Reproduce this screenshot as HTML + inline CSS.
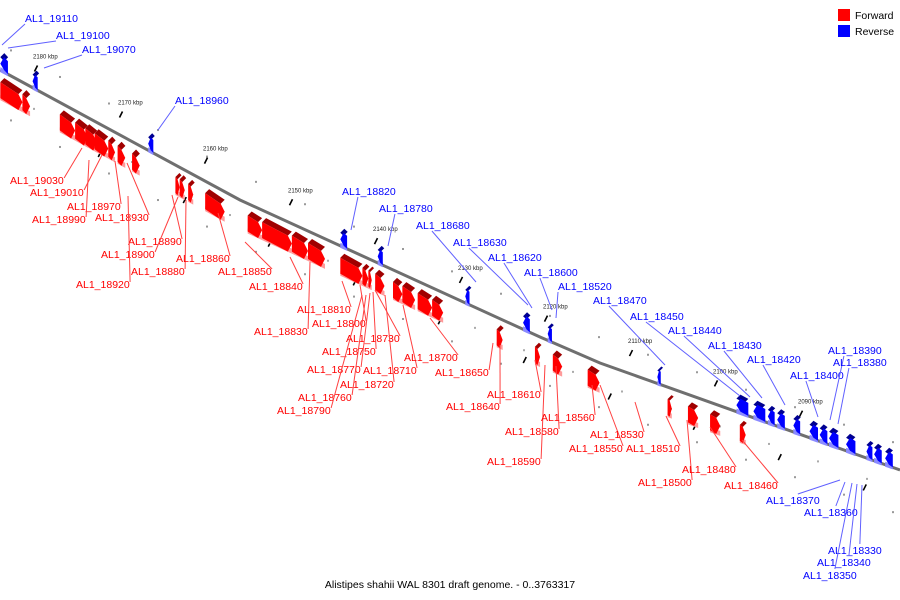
<!DOCTYPE html>
<html>
<head>
<meta charset="utf-8">
<style>
  html,body{margin:0;padding:0;background:#fff;}
  svg{display:block;}
  .lbl{font-family:"Liberation Sans","DejaVu Sans",sans-serif;font-size:10.5px;}
  .tk{font-family:"Liberation Sans",sans-serif;font-size:6px;fill:#222;}
</style>
</head>
<body>
<svg id="chart" width="900" height="600" viewBox="0 0 900 600">
  <g id="bg"></g>
  <polyline id="axis" fill="none" stroke="#6f6f6f" stroke-width="3"></polyline>
  <g id="ticks"></g>
  <g id="genes"></g>
  <g id="labels"></g>
  <g>
    <rect x="838" y="9" width="12" height="12" fill="#ff0000"/>
    <text x="855" y="19" class="lbl" font-size="9.5" fill="#000">Forward</text>
    <rect x="838" y="25" width="12" height="12" fill="#0000ff"/>
    <text x="855" y="35" class="lbl" font-size="9.5" fill="#000">Reverse</text>
  </g>
  <text x="450" y="588" text-anchor="middle" class="lbl" font-size="10" fill="#000">Alistipes shahii WAL 8301 draft genome. - 0..3763317</text>
</svg>
<script>
// ---- data (kbp) ----
const fwdStart = [2184.2,2181.6,2177.2,2175.4,2174.2,2173.1,2171.5,2170.4,2168.7,2163.6,2163.1,2162.1,2160.1,2155.1,2153.4,2149.9,2148.0,2144.2,2141.6,2140.9,2140.1,2138.0,2136.9,2135.1,2133.4,2125.8,2121.3,2119.2,2115.1,2105.7,2103.3,2100.7,2097.2];
const fwdEnd   = [2181.6,2180.7,2175.4,2173.9,2172.8,2171.5,2170.7,2169.5,2167.8,2163.1,2162.5,2161.5,2157.8,2153.4,2149.9,2148.0,2146.0,2141.6,2140.9,2140.5,2139.0,2136.9,2135.4,2133.4,2132.1,2125.1,2120.7,2118.1,2113.7,2105.2,2102.1,2099.5,2096.5];
const revStart = [2184.2,2180.4,2166.8,2144.2,2139.8,2129.5,2122.7,2119.8,2106.9,2097.6,2095.6,2093.9,2092.8,2090.9,2089.0,2087.8,2086.7,2084.7,2082.3,2081.4,2080.1];
const revEnd   = [2183.3,2179.8,2166.2,2143.4,2139.2,2129.0,2121.9,2119.3,2106.5,2096.2,2094.2,2093.1,2091.9,2090.1,2088.0,2086.9,2085.6,2083.6,2081.6,2080.5,2079.2];
const tickKbp  = [2180,2170,2160,2150,2140,2130,2120,2110,2100,2090];
const tickLabels = ["2180 kbp","2170 kbp","2160 kbp","2150 kbp","2140 kbp","2130 kbp","2120 kbp","2110 kbp","2100 kbp","2090 kbp"];
// labels: text, text x, baseline y, leader end x, leader end y, strand
const labelNames = ["AL1_19110","AL1_19100","AL1_19070","AL1_18960","AL1_18820","AL1_18780","AL1_18680","AL1_18630","AL1_18620","AL1_18600","AL1_18520","AL1_18470","AL1_18450","AL1_18440","AL1_18430","AL1_18420","AL1_18400","AL1_18390","AL1_18380","AL1_18370","AL1_18360","AL1_18330","AL1_18340","AL1_18350",
 "AL1_19030","AL1_19010","AL1_18970","AL1_18990","AL1_18930","AL1_18890","AL1_18900","AL1_18880","AL1_18920","AL1_18860","AL1_18850","AL1_18840","AL1_18830","AL1_18810","AL1_18800","AL1_18730","AL1_18750","AL1_18770","AL1_18710","AL1_18720","AL1_18760","AL1_18790","AL1_18700","AL1_18650","AL1_18640","AL1_18610","AL1_18580","AL1_18590","AL1_18560","AL1_18550","AL1_18530","AL1_18510","AL1_18500","AL1_18480","AL1_18460"];
const labelStrand = "bbbbbbbbbbbbbbbbbbbbbbbbrrrrrrrrrrrrrrrrrrrrrrrrrrrrrrrrrrr";
const labelPos = [[25,22,2,45],[56,39,8,48],[82,53,44,68],[175,104,158,130],[342,195,351,230],[379,212,388,246],[416,229,476,282],[453,246,528,305],[488,261,532,308],[524,276,552,310],[558,290,556,318],[593,304,665,365],[630,320,740,396],[668,334,750,397],[708,349,762,398],[747,363,785,405],[790,379,818,417],[828,354,830,420],[833,366,838,424],[766,504,840,480],[804,516,845,482],[828,554,862,485],[817,566,857,484],[803,579,852,483],
 [10,184,82,148],[30,196,102,155],[67,210,115,161],[32,223,89,160],[95,221,127,163],[128,245,172,195],[101,258,178,197],[131,275,186,200],[76,288,128,196],[176,262,218,213],[218,275,245,242],[249,290,290,257],[254,335,310,262],[297,313,342,281],[312,327,360,285],[346,342,375,290],[322,355,373,292],[307,373,370,293],[363,374,403,305],[340,388,385,295],[298,401,366,295],[277,414,362,295],[404,361,430,318],[435,376,493,343],[446,410,500,345],[487,398,535,360],[505,435,556,366],[487,465,545,365],[541,421,592,385],[569,452,600,385],[590,438,635,402],[626,452,666,416],[638,486,687,420],[682,473,710,427],[724,489,742,440]];

// ---- axis functions ----
const axPts=[[0,70],[240,200],[540,337],[600,363],[900,470]];
function axisY(x){
  for(let i=0;i<axPts.length-1;i++){
    const a=axPts[i],b=axPts[i+1];
    if(x<=b[0]||i===axPts.length-2){return a[1]+(b[1]-a[1])*(x-a[0])/(b[0]-a[0]);}
  }
}
function xOf(kbp){return 36+(2180-kbp)*8.5;}
const NS="http://www.w3.org/2000/svg";
function mk(tag,attrs,parent){const e=document.createElementNS(NS,tag);for(const k in attrs)e.setAttribute(k,attrs[k]);parent.appendChild(e);return e;}

document.getElementById('axis').setAttribute('points',axPts.map(p=>p.join(',')).join(' '));

// background dots
const bg=document.getElementById('bg');
for(let x=10;x<900;x+=49){
  [-26,44].forEach(o=>{
    const d=mk('rect',{x:x,y:axisY(x)+o,width:2,height:2,fill:'#999'},bg);
    
    
  });
}
for(let x=33;x<900;x+=49){
  const d=mk('rect',{x:x,y:axisY(x)+20,width:2,height:2,fill:'#aaa'},bg);
  
  
}

// ticks
const tg=document.getElementById('ticks');
tickKbp.forEach((k,i)=>{
  const x=xOf(k),y=axisY(x)-21;
  const t=mk('line',{x1:x-1.5,y1:y+3,x2:x+1.5,y2:y-3,stroke:'#000','stroke-width':1.6},tg);
  
  
  const tx=mk('text',{x:x-3,y:y-10,class:'tk'},tg);
  tx.textContent=tickLabels[i];
  
  
  const x2=xOf(k-7.5),y2=axisY(x2)+30;
  const t2=mk('line',{x1:x2-1.5,y1:y2+3,x2:x2+1.5,y2:y2-3,stroke:'#000','stroke-width':1.6},tg);
  
  
});

// genes
const gg=document.getElementById('genes');
function gene(k1,k2,fwd){
  const x1=xOf(k1),x2=xOf(k2);
  const top=fwd?12:-13, h=fwd?16:13;
  const tip=Math.min(4,(x2-x1)*0.5);
  const y1=axisY(x1),y2=axisY(x2);
  const g=mk('g',{},gg);
  
  
  const cMain=fwd?'#ff0000':'#0000ff', cTop=fwd?'#a00000':'#000090', cLow=fwd?'#ff9a9a':'#8a8aff';
  // bottom light shadow
  mk('polygon',{points:[[x1,y1+top+h-3],[x2,y2+top+h-3],[x2,y2+top+h+2],[x1,y1+top+h+2]].map(p=>p.join(',')).join(' '),fill:cLow},g);
  // top face
  mk('polygon',{points:[[x1,y1+top],[x2-tip,y2+top],[x2-tip+4,y2+top-4],[x1+4,y1+top-4]].map(p=>p.join(',')).join(' '),fill:cTop},g);
  // front face with arrow
  let pts;
  if(fwd){pts=[[x1,y1+top],[x2-tip,y2+top],[x2,y2+top+h/2],[x2-tip,y2+top+h],[x1,y1+top+h]];}
  else{pts=[[x1,y1+top+h/2],[x1+tip,y1+top],[x2,y2+top],[x2,y2+top+h],[x1+tip,y1+top+h]];}
  mk('polygon',{points:pts.map(p=>p.join(',')).join(' '),fill:cMain},g);
}
fwdStart.forEach((s,i)=>gene(s,fwdEnd[i],true));
revStart.forEach((s,i)=>gene(s,revEnd[i],false));

// labels
const lg=document.getElementById('labels');
labelNames.forEach((n,i)=>{
  const p=labelPos[i], col=labelStrand[i]==='b'?'#0000ff':'#ff0000', lc=labelStrand[i]==='b'?'#6060ff':'#ff4040';
  const w=n.length*5.9;
  let sx,sy;
  if(labelStrand[i]==='b'){
    if(p[3]>p[1]){ sx = p[0]+(p[2]<p[0]?0:w*0.3); sy=p[1]+2; if(p[2]<p[0]) sx=p[0];}
    else { sx=p[0]+w*0.6; sy=p[1]-10; }
  } else {
    sx=p[0]+w+1; sy=p[1]-6;
  }
  const l=mk('line',{x1:sx,y1:sy,x2:p[2],y2:p[3],stroke:lc,'stroke-width':1},lg);
  
  
  const t=mk('text',{x:p[0],y:p[1],class:'lbl',fill:col},lg);
  t.textContent=n;
  
  
});
</script>
</body>
</html>
